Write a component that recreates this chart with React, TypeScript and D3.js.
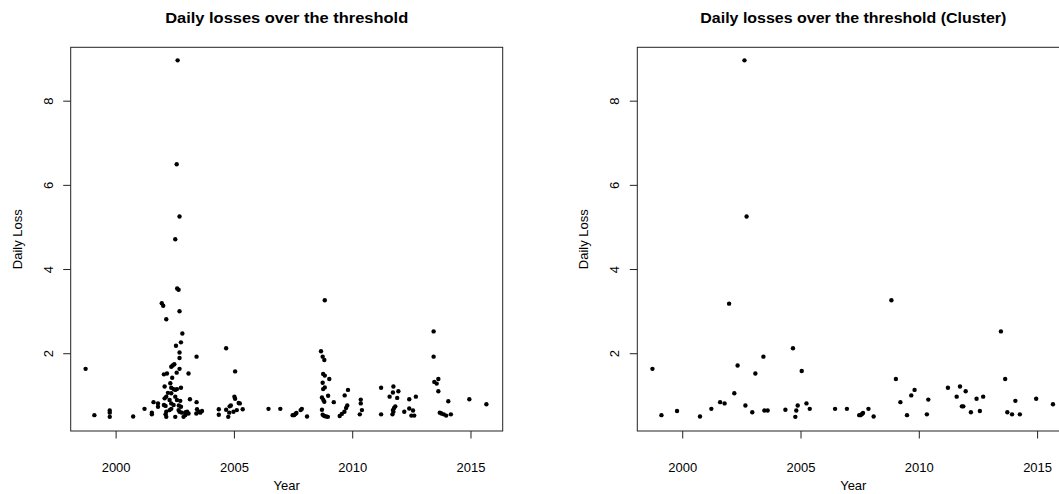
import React from "react";
import * as d3 from "d3";

// all exceedances: [year, daily loss]
const allLosses: [number, number][] = [
  [1998.71, 1.64], [1999.08, 0.54], [1999.73, 0.65], [1999.73, 0.6], [1999.73, 0.5],
  [2000.72, 0.51], [2001.2, 0.69], [2001.51, 0.6], [2001.51, 0.56], [2001.58, 0.85],
  [2001.77, 0.82], [2001.77, 0.74], [2001.93, 3.2], [2001.99, 3.14], [2002.12, 2.82],
  [2002.02, 1.51], [2002.15, 1.53], [2002.37, 1.43], [2002.33, 1.69], [2002.39, 1.72],
  [2002.46, 1.75], [2002.56, 1.55], [2002.68, 1.64], [2002.53, 2.19], [2002.74, 2.27],
  [2002.8, 2.48], [2002.68, 3.01], [2002.58, 3.55], [2002.64, 3.52], [2002.5, 4.72],
  [2002.68, 5.26], [2002.56, 6.5], [2002.6, 8.97], [2002.68, 2.03], [2002.68, 1.9],
  [2003.06, 1.53], [2003.4, 1.93], [2002.05, 1.22], [2002.29, 1.3], [2002.33, 1.19],
  [2002.43, 1.16], [2002.5, 1.14], [2002.57, 1.16], [2002.74, 1.19], [2002.19, 1.07],
  [2002.12, 0.98], [2002.05, 0.94], [2002.33, 1.06], [2002.26, 0.9], [2002.57, 0.9],
  [2002.33, 0.82], [2002.43, 0.78], [2002.5, 0.98], [2002.02, 0.78], [2002.09, 0.76],
  [2002.71, 0.88], [2003.12, 0.92], [2003.4, 0.85], [2002.12, 0.62], [2002.09, 0.56],
  [2002.12, 0.5], [2002.26, 0.66], [2002.33, 0.69], [2002.5, 0.5], [2002.64, 0.66],
  [2002.68, 0.62], [2002.78, 0.6], [2002.85, 0.5], [2002.92, 0.54], [2003.0, 0.62],
  [2003.06, 0.58], [2002.74, 0.74], [2002.65, 0.77], [2002.94, 0.61], [2003.42, 0.68],
  [2003.39, 0.58], [2003.49, 0.62], [2003.56, 0.6], [2003.63, 0.64],
  [2004.34, 0.68], [2004.34, 0.55], [2004.65, 2.13], [2004.74, 0.5], [2004.65, 0.67],
  [2004.8, 0.75], [2004.85, 0.77], [2004.96, 0.62], [2005.0, 0.98], [2005.03, 0.93],
  [2005.03, 1.58], [2005.18, 0.83], [2005.23, 0.82], [2005.1, 0.66], [2005.35, 0.68],
  [2004.78, 0.6],
  [2006.44, 0.69], [2006.94, 0.69], [2007.46, 0.54], [2007.52, 0.54], [2007.58, 0.57],
  [2007.62, 0.59], [2007.8, 0.66], [2007.85, 0.69], [2008.07, 0.51],
  [2008.66, 2.06], [2008.73, 1.93], [2008.8, 1.85], [2008.82, 3.27], [2008.75, 1.52],
  [2008.82, 1.48], [2009.01, 1.4], [2008.73, 1.31], [2008.82, 1.2], [2008.75, 1.16],
  [2008.96, 1.0], [2008.7, 0.96], [2008.76, 0.9], [2009.2, 0.85], [2008.8, 0.86],
  [2008.7, 0.67], [2008.73, 0.55], [2008.8, 0.52], [2008.88, 0.51], [2008.95, 0.5],
  [2009.45, 0.52], [2009.54, 0.57], [2009.65, 0.62], [2009.72, 0.71], [2009.77, 0.77],
  [2009.66, 1.01], [2009.8, 1.14],
  [2010.34, 0.91], [2010.34, 0.82], [2010.39, 0.66], [2010.3, 0.56],
  [2011.2, 1.19], [2011.2, 0.56], [2011.72, 1.22], [2011.7, 1.08], [2011.93, 1.11],
  [2011.56, 0.98], [2011.88, 0.95], [2011.8, 0.75], [2011.75, 0.71], [2011.7, 0.66],
  [2011.68, 0.56], [2011.72, 0.62], [2012.18, 0.62], [2012.39, 0.92], [2012.39, 0.7],
  [2012.55, 0.65], [2012.67, 0.98], [2012.48, 0.53], [2012.6, 0.53],
  [2013.42, 2.53], [2013.42, 1.93], [2013.45, 1.33], [2013.55, 1.29], [2013.62, 1.4],
  [2013.62, 1.11], [2014.04, 0.87], [2013.68, 0.6], [2013.75, 0.58], [2013.85, 0.56],
  [2013.95, 0.53], [2014.15, 0.56], [2014.93, 0.92], [2015.65, 0.8],
];

// cluster maxima: [year, daily loss]
const clusterLosses: [number, number][] = [
  [1998.72, 1.64], [1999.1, 0.54], [1999.76, 0.64], [2000.73, 0.51], [2001.21, 0.69],
  [2001.58, 0.85], [2001.77, 0.82], [2001.96, 3.19], [2002.18, 1.06], [2002.32, 1.72],
  [2002.61, 8.97], [2002.65, 0.77], [2002.7, 5.26], [2002.94, 0.61], [2003.07, 1.53],
  [2003.41, 1.93], [2003.45, 0.65], [2003.59, 0.65], [2004.34, 0.67], [2004.66, 2.13],
  [2004.76, 0.5], [2004.8, 0.65], [2004.86, 0.77], [2005.03, 1.59], [2005.23, 0.82],
  [2005.37, 0.69], [2006.44, 0.69], [2006.94, 0.69], [2007.46, 0.54], [2007.52, 0.54],
  [2007.58, 0.57], [2007.62, 0.59], [2007.85, 0.69], [2008.07, 0.51], [2008.82, 3.27],
  [2009.01, 1.4], [2009.2, 0.85], [2009.48, 0.54], [2009.66, 1.01], [2009.8, 1.14],
  [2010.32, 0.56], [2010.38, 0.91], [2011.21, 1.19], [2011.58, 0.98], [2011.72, 1.22],
  [2011.8, 0.75], [2011.86, 0.75], [2011.96, 1.11], [2012.18, 0.61], [2012.42, 0.93],
  [2012.56, 0.64], [2012.7, 0.98], [2013.45, 2.53], [2013.63, 1.4], [2013.72, 0.61],
  [2013.92, 0.56], [2014.06, 0.88], [2014.25, 0.56], [2014.94, 0.93], [2015.65, 0.8],
];

const xTicks = [2000, 2005, 2010, 2015];
const yTicks = [2, 4, 6, 8];

const FONT = "'Liberation Sans', Arial, Helvetica, sans-serif";
const PLOT = { top: 47.3, bottom: 431, width: 432 };
const INK = "#222";
const LABEL_SIZE = 13;

function Panel({
  left,
  title,
  titleWidth,
  data,
}: {
  left: number;
  title: string;
  titleWidth: number;
  data: [number, number][];
}) {
  const x = d3.scaleLinear().domain([1998.08, 2016.34]).range([left, left + PLOT.width]);
  const y = d3.scaleLinear().domain([0.164, 9.28]).range([PLOT.bottom, PLOT.top]);
  const cx = left + PLOT.width / 2;
  const cy = (PLOT.top + PLOT.bottom) / 2;

  return (
    <g>
      <text
        x={cx - titleWidth / 2}
        y={23}
        textLength={titleWidth}
        lengthAdjust="spacingAndGlyphs"
        fontFamily={FONT}
        fontWeight="bold"
        fontSize={14.5}
        fill="#000"
      >
        {title}
      </text>

      {/* points */}
      {data.map((d, i) => (
        <circle key={i} cx={x(d[0])} cy={y(d[1])} r={2.2} fill="#000" />
      ))}

      {/* box */}
      <rect
        x={left}
        y={PLOT.top}
        width={PLOT.width}
        height={PLOT.bottom - PLOT.top}
        fill="none"
        stroke={INK}
        strokeWidth={1}
      />

      {/* x axis */}
      {xTicks.map((t) => (
        <g key={t}>
          <line x1={x(t)} x2={x(t)} y1={PLOT.bottom} y2={PLOT.bottom + 7.5} stroke={INK} />
          <text x={x(t)} y={472} textAnchor="middle" fontFamily={FONT} fontSize={LABEL_SIZE} fill="#000">
            {t}
          </text>
        </g>
      ))}
      <text x={cx} y={490} textAnchor="middle" fontFamily={FONT} fontSize={LABEL_SIZE} fill="#000">
        Year
      </text>

      {/* y axis */}
      {yTicks.map((t) => (
        <g key={t}>
          <line x1={left - 7.5} x2={left} y1={y(t)} y2={y(t)} stroke={INK} />
          <text
            transform={`translate(${left - 18},${y(t)}) rotate(-90)`}
            textAnchor="middle"
            fontFamily={FONT}
            fontSize={LABEL_SIZE}
            fill="#000"
          >
            {t}
          </text>
        </g>
      ))}
      <text
        transform={`translate(${left - 49},${cy}) rotate(-90)`}
        textAnchor="middle"
        fontFamily={FONT}
        fontSize={LABEL_SIZE}
        fill="#000"
      >
        Daily Loss
      </text>
    </g>
  );
}

export default function App() {
  return (
    <svg
      width={1059}
      height={494}
      style={{ position: "absolute", left: 0, top: 0, background: "#fff" }}
    >
      <rect width={1059} height={494} fill="#fff" />
      <Panel left={70.7} title="Daily losses over the threshold" titleWidth={243} data={allLosses} />
      <Panel
        left={637.3}
        title="Daily losses over the threshold (Cluster)"
        titleWidth={306}
        data={clusterLosses}
      />
    </svg>
  );
}
